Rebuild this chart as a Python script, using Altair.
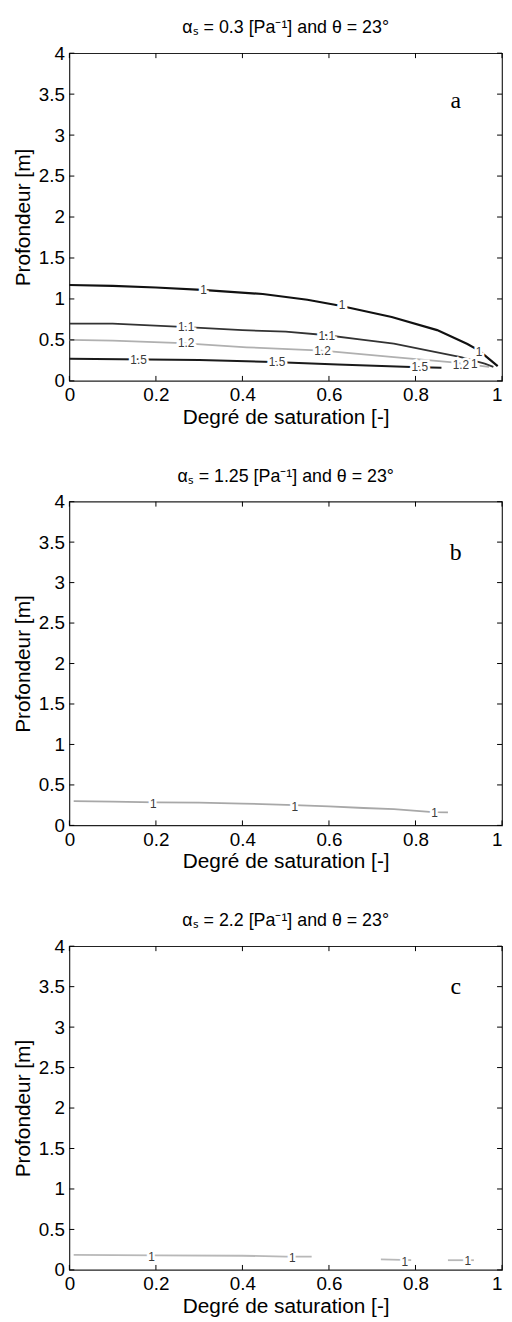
import altair as alt
import pandas as pd

# ---------------- data ----------------
sat_ticks = [0, 0.2, 0.4, 0.6, 0.8, 1]
dep_ticks = [0, 0.5, 1, 1.5, 2, 2.5, 3, 3.5, 4]

# panel a : contour lines
a1_sat = [0, 0.1, 0.2, 0.306, 0.447, 0.55, 0.623, 0.745, 0.85, 0.92, 0.947, 0.974, 0.99]
a1_dep = [1.17, 1.16, 1.14, 1.11, 1.06, 0.99, 0.92, 0.78, 0.62, 0.45, 0.37, 0.25, 0.18]
a11_sat = [0, 0.1, 0.26, 0.40, 0.5, 0.59, 0.68, 0.75, 0.83, 0.905, 0.96, 0.98]
a11_dep = [0.70, 0.70, 0.66, 0.62, 0.60, 0.56, 0.50, 0.455, 0.37, 0.29, 0.21, 0.17]
a12_sat = [0, 0.1, 0.26, 0.41, 0.585, 0.75, 0.88, 0.94, 0.97]
a12_dep = [0.50, 0.49, 0.46, 0.41, 0.37, 0.29, 0.23, 0.19, 0.17]
a15_sat = [0, 0.18, 0.3, 0.47, 0.62, 0.79, 0.86]
a15_dep = [0.27, 0.26, 0.255, 0.23, 0.20, 0.17, 0.16]
a_lab_text = ["1", "1", "1", "1.1", "1.1", "1", "1.2", "1.2", "1.2", "1.5", "1.5", "1.5"]
a_lab_sat = [0.31, 0.63, 0.947, 0.27, 0.595, 0.936, 0.27, 0.585, 0.905, 0.16, 0.48, 0.81]
a_lab_dep = [1.11, 0.92, 0.35, 0.66, 0.55, 0.20, 0.46, 0.36, 0.19, 0.255, 0.225, 0.165]

# panel b
b1_sat = [0.01, 0.1, 0.2, 0.3, 0.4, 0.52, 0.6, 0.68, 0.75, 0.84, 0.875]
b1_dep = [0.30, 0.295, 0.285, 0.28, 0.27, 0.25, 0.235, 0.215, 0.20, 0.165, 0.16]
b_lab_text = ["1", "1", "1"]
b_lab_sat = [0.194, 0.521, 0.844]
b_lab_dep = [0.265, 0.23, 0.15]

# panel c
c1_sat = [0.01, 0.2, 0.4, 0.5, 0.56]
c1_dep = [0.185, 0.18, 0.175, 0.165, 0.165]
c2_sat = [0.72, 0.79]
c2_dep = [0.13, 0.12]
c3_sat = [0.875, 0.935]
c3_dep = [0.12, 0.12]
c_lab_text = ["1", "1", "1", "1"]
c_lab_sat = [0.19, 0.515, 0.775, 0.921]
c_lab_dep = [0.165, 0.15, 0.10, 0.11]

titles = ["αₛ = 0.3 [Pa⁻¹] and  θ = 23°",
          "αₛ = 1.25 [Pa⁻¹] and  θ = 23°",
          "αₛ = 2.2 [Pa⁻¹] and  θ = 23°"]
letters = ["a", "b", "c"]
letter_sat = 0.893
letter_dep = [3.42, 3.36, 3.49]

W = 437
FONT = "Liberation Sans"


def line_df(series):
    rows = []
    for name, color, width, sx, sy in series:
        for i, (x, y) in enumerate(zip(sx, sy)):
            rows.append({"sat": x, "dep": y, "series": name, "col": color,
                         "w": width, "order": i})
    return pd.DataFrame(rows)


def panel(series, lab_text, lab_sat, lab_dep, letter, ldep, title, H):
    xs = alt.Scale(domain=[0, 1], nice=False, zero=False)
    ys = alt.Scale(domain=[0, 4], nice=False, zero=False)
    X = alt.X("sat:Q", scale=xs,
              axis=alt.Axis(values=sat_ticks, format="~g", title="Degré de saturation [-]",
                            labelAlign={"condition": {"test": "datum.value >= 1", "value": "right"},
                                        "value": "center"}))
    Y = alt.Y("dep:Q", scale=ys,
              axis=alt.Axis(values=dep_ticks, format="~g", title="Profondeur [m]"))

    ldf = line_df(series)
    lines = alt.Chart(ldf).mark_line().encode(
        x=X, y=Y,
        color=alt.Color("col:N", scale=None),
        strokeWidth=alt.StrokeWidth("w:Q", scale=None),
        detail="series:N",
        order="order:Q",
    )
    labdf = pd.DataFrame({"sat": lab_sat, "dep": lab_dep, "t": lab_text})
    halo = alt.Chart(labdf).mark_text(font=FONT, fontSize=12, stroke="white",
                                      strokeWidth=5, fill="white").encode(x=X, y=Y, text="t:N")
    labs = alt.Chart(labdf).mark_text(font=FONT, fontSize=12, fill="#3a3a3a").encode(
        x=X, y=Y, text="t:N")

    xt = pd.DataFrame({"sat": sat_ticks})
    yt = pd.DataFrame({"dep": dep_ticks})
    tb = alt.Chart(xt).mark_rule(color="black").encode(x=X, y=alt.value(H), y2=alt.value(H - 5))
    tt = alt.Chart(xt).mark_rule(color="black").encode(x=X, y=alt.value(0), y2=alt.value(5))
    tl = alt.Chart(yt).mark_rule(color="black").encode(y=Y, x=alt.value(0), x2=alt.value(5))
    tr = alt.Chart(yt).mark_rule(color="black").encode(y=Y, x=alt.value(W - 5), x2=alt.value(W))

    letdf = pd.DataFrame({"sat": [letter_sat], "dep": [ldep], "t": [letter]})
    let = alt.Chart(letdf).mark_text(font="Liberation Serif", fontSize=24, fill="black").encode(
        x=X, y=Y, text="t:N")

    return alt.layer(lines, halo, labs, tb, tt, tl, tr, let).properties(
        width=W, height=H,
        title=alt.TitleParams(title, fontSize=18, fontWeight="normal", font=FONT,
                              color="black", offset=7, anchor="middle", frame="group"),
    )


pa = panel([("1", "#111111", 2.2, a1_sat, a1_dep), ("1.1", "#333333", 1.8, a11_sat, a11_dep),
            ("1.2", "#b0b0b0", 1.8, a12_sat, a12_dep), ("1.5", "#1a1a1a", 2.0, a15_sat, a15_dep)],
           a_lab_text, a_lab_sat, a_lab_dep, letters[0], letter_dep[0], titles[0], 331)
pb = panel([("1", "#a8a8a8", 1.8, b1_sat, b1_dep)],
           b_lab_text, b_lab_sat, b_lab_dep, letters[1], letter_dep[1], titles[1], 327)
pc = panel([("c1", "#b8b8b8", 1.8, c1_sat, c1_dep), ("c2", "#b8b8b8", 1.8, c2_sat, c2_dep),
            ("c3", "#b8b8b8", 1.8, c3_sat, c3_dep)],
           c_lab_text, c_lab_sat, c_lab_dep, letters[2], letter_dep[2], titles[2], 327)

chart = alt.vconcat(pa, pb, pc, spacing=39).properties(
    padding={"left": 3, "top": 4, "right": 0, "bottom": 0}
).configure_view(stroke="#222222", strokeWidth=1.2).configure_axis(
    domain=False, ticks=False, grid=False,
    labelFont=FONT, labelFontSize=19, labelColor="black", labelPadding=5,
    titleFont=FONT, titleFontSize=21, titleFontWeight="normal", titleColor="black",
).configure_axisY(titlePadding=5).configure_axisX(titlePadding=2)

chart.save("out.html", embed_options={"renderer": "svg", "actions": False})
